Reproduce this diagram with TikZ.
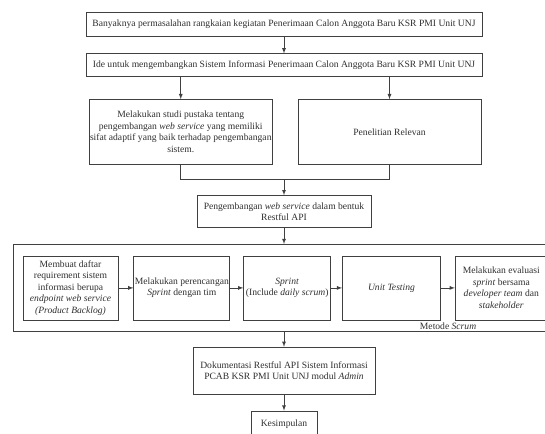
\documentclass[tikz,border=0pt]{standalone}
\usepackage{fontspec}
\setmainfont{Liberation Serif}
\usepackage{tikz}
\usetikzlibrary{positioning}
\definecolor{garis}{HTML}{404040}
\definecolor{huruf}{HTML}{303030}

\begin{document}
\begin{tikzpicture}[x=1pt,y=1pt,
	kotak/.style={fill=white,draw=garis,line width=0.8pt,align=center,inner sep=1pt,text=huruf,font=\fontsize{9.6}{11.6}\selectfont},
	panah/.style={-latex,draw=garis,line width=0.8pt}]
			\useasboundingbox (0,0) rectangle (545,-433);
			\node[kotak,minimum width=396,minimum height=24] (masalah) at (284,-24) {Banyaknya permasalahan rangkaian kegiatan Penerimaan Calon Anggota Baru KSR PMI Unit UNJ};
			\node[kotak,minimum width=396,minimum height=23,below=17 of masalah] (ide) {Ide untuk mengembangkan Sistem Informasi Penerimaan Calon Anggota Baru KSR PMI Unit UNJ};
			\node[kotak,minimum width=183,minimum height=64.5,below right=22 and 3 of ide.south west] (studi) {Melakukan studi pustaka tentang\\ pengembangan \textit{web service} yang memiliki\\ sifat adaptif yang baik terhadap pengembangan\\ sistem.};
			\node[kotak,minimum width=183,minimum height=64.5,below left=22 and 1 of ide.south east] (relevan) {Penelitian Relevan};
			\node[kotak,minimum width=174,minimum height=32,below=118 of ide] (restful) {Pengembangan \textit{web service} dalam bentuk\\ Restful API};
			\coordinate[above=15.5 of restful] (gabung);
			\node[draw=garis,line width=0.8pt,minimum width=542,minimum height=87,inner sep=0,below=16 of restful] (scrum) {};
			\node[kotak,minimum width=95,minimum height=64,right=10 of scrum.west] (backlog) {Membuat daftar\\ requirement sistem\\ informasi berupa\\ \textit{endpoint web service}\\ \textit{(Product Backlog)}};
			\node[kotak,minimum width=95,minimum height=64,right=15 of backlog] (rencana) {Melakukan perencangan\\ \textit{Sprint} dengan tim};
			\node[kotak,minimum width=87,minimum height=64,right=13 of rencana] (sprint) {\textit{Sprint}\\ (Include \textit{daily scrum})};
			\node[kotak,minimum width=98,minimum height=64,right=11 of sprint] (testing) {\textit{Unit Testing}};
			\node[kotak,minimum width=92,minimum height=64,right=14 of testing] (evaluasi) {Melakukan evaluasi\\ \textit{sprint} bersama\\ \textit{developer team} dan\\ \textit{stakeholder}};
			\node[text=huruf,inner sep=1pt,font=\fontsize{9.6}{11.6}\selectfont,above left=0.5 and 78 of scrum.south east] (metode) {Metode \textit{Scrum}};
			\node[kotak,minimum width=182,minimum height=47,below=15 of scrum] (dokumentasi) {Dokumentasi Restful API Sistem Informasi\\ PCAB KSR PMI Unit UNJ modul \textit{Admin}};
			\node[kotak,minimum width=66,minimum height=26,below=16 of dokumentasi] (kesimpulan) {Kesimpulan};
			\draw[panah] (masalah) -- (ide);
			\draw[panah] (ide.south -| studi) -- (studi);
			\draw[panah] (ide.south -| relevan) -- (relevan);
			\draw[draw=garis,line width=0.8pt] (studi) |- (gabung) -| (relevan);
			\draw[panah] (gabung) -- (restful);
			\draw[panah] (restful) -- (restful |- scrum.north);
			\draw[panah] (backlog) -- (rencana);
			\draw[panah] (rencana) -- (sprint);
			\draw[panah] (sprint) -- (testing);
			\draw[panah] (testing) -- (evaluasi);
			\draw[panah] (scrum.south -| dokumentasi) -- (dokumentasi);
			\draw[panah] (dokumentasi) -- (kesimpulan);
		\end{tikzpicture}
\end{document}
